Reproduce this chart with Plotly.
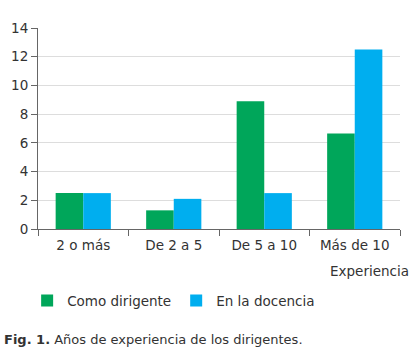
import plotly.graph_objects as go

categories = ["2 o más", "De 2 a 5", "De 5 a 10", "Más de 10"]
como_dirigente = [2.5, 1.3, 8.9, 6.65]
en_docencia = [2.5, 2.1, 2.5, 12.5]
series_names = ["Como dirigente", "En la docencia"]
y_ticks = [0, 2, 4, 6, 8, 10, 12, 14]

FONT = "DejaVu Sans"
TXT = "#333333"
FS = 13.5

fig = go.Figure()
fig.add_trace(go.Bar(x=categories, y=como_dirigente, name=series_names[0],
                     marker=dict(color="#00A65A", line=dict(width=0))))
fig.add_trace(go.Bar(x=categories, y=en_docencia, name=series_names[1],
                     marker=dict(color="#00AEEF", line=dict(width=0))))

fig.update_layout(
    width=419, height=352,
    margin=dict(l=38, r=19, t=28, b=123),
    paper_bgcolor="white", plot_bgcolor="white",
    barmode="group", bargap=0.39, bargroupgap=0,
    font=dict(family=FONT, size=FS, color=TXT),
    showlegend=True,
    legend=dict(orientation="h", x=-0.03, xanchor="left", y=-0.28, yanchor="top",
                font=dict(size=FS, color=TXT), itemwidth=30,
                traceorder="normal"),
    xaxis=dict(type="category", showgrid=False, showline=True, linecolor="#666666",
               linewidth=1, ticks="outside", tickson="boundaries", ticklen=6,
               tickcolor="#666666", tickfont=dict(size=FS, color=TXT),
               ticklabelstandoff=4),
    yaxis=dict(range=[0, 14], tickvals=y_ticks, showgrid=True, gridcolor="#dddddd",
               showline=True, linecolor="#666666", linewidth=1, ticks="outside",
               ticklen=6, tickcolor="#666666", zeroline=False,
               tickfont=dict(size=FS, color=TXT)),
    annotations=[
        dict(text="Experiencia", xref="paper", yref="paper", x=1.03, y=-0.16,
             xanchor="right", yanchor="top", showarrow=False,
             font=dict(size=FS, color=TXT)),
        dict(text="<b>Fig. 1.</b> Años de experiencia de los dirigentes.",
             xref="paper", yref="paper", x=-0.1, y=-0.5, xanchor="left",
             yanchor="top", showarrow=False, font=dict(size=13, color=TXT)),
    ],
)

fig.write_html("out.html")
